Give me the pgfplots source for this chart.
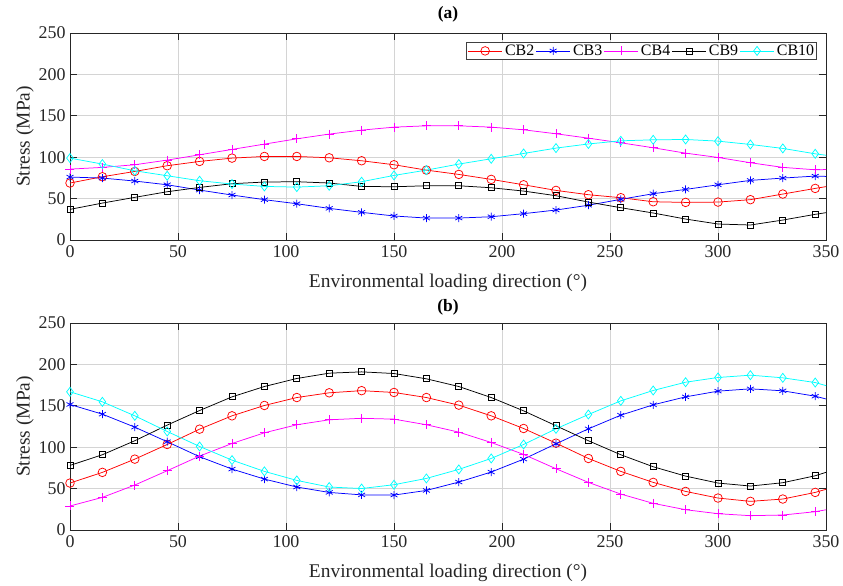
\documentclass[border=0pt]{standalone}
\usepackage{fontspec}
\setmainfont{Liberation Serif}
\usepackage{pgfplots}
\usepackage{pgfplotstable}
\pgfplotsset{compat=1.18}
\usetikzlibrary{plotmarks}
\definecolor{mred}{rgb}{1,0,0}
\definecolor{mblue}{rgb}{0,0,1}
\definecolor{mmag}{rgb}{1,0,1}
\definecolor{mcyan}{rgb}{0,1,1}

\pgfplotstableread{
x CB2 CB3 CB4 CB9 CB10
0 68.8 76.0 85.6 37.0 98.9
15 76.4 74.8 87.7 44.6 91.7
30 82.8 71.2 90.9 51.5 83.6
45 89.7 66.7 96.5 58.3 77.6
60 94.9 60.3 102.9 63.5 71.6
75 98.9 54.3 109.4 68.0 67.6
90 100.9 48.7 115.8 70.0 64.7
105 100.9 43.8 122.2 70.4 63.9
120 99.3 38.2 127.9 68.8 65.5
135 95.7 33.4 132.7 64.7 70.4
150 90.9 29.0 136.3 64.3 78.0
165 84.4 26.5 137.9 65.5 84.4
180 79.2 26.5 137.9 65.5 91.7
195 73.2 28.1 136.3 63.1 98.1
210 66.7 31.8 133.1 59.1 104.5
225 59.9 36.2 128.3 53.5 111.0
240 54.7 42.0 123.0 45.8 116.0
255 51.1 49.1 117.4 39.0 119.8
270 46.2 55.9 111.4 32.6 121.0
285 45.4 61.1 104.9 25.3 121.4
300 45.8 66.7 99.7 19.3 119.4
315 48.7 72.0 93.3 18.1 115.4
330 55.5 74.8 87.7 24.1 110.6
345 62.3 77.2 84.8 31.0 104.1
360 68.8 76.0 85.6 37.0 98.9
}\tableA

\pgfplotstableread{
x CB2 CB3 CB4 CB9 CB10
0 56.7 151.6 29.0 78.0 166.9
15 69.6 139.9 39.4 90.9 154.8
30 85.6 124.2 54.3 107.8 137.9
45 103.3 106.6 71.6 126.7 119.0
60 121.8 88.5 89.3 144.3 100.9
75 137.9 73.6 104.5 160.8 84.4
90 150.4 61.5 117.4 173.3 70.8
105 160.0 51.9 127.1 183.0 59.9
120 165.7 45.4 133.1 189.4 51.9
135 168.3 42.4 134.9 191.0 50.1
150 166.1 42.2 133.9 189.0 54.7
165 160.0 47.8 127.1 182.6 62.3
180 150.8 57.9 118.2 173.3 73.2
195 137.9 70.0 105.7 160.0 86.4
210 122.6 85.6 91.3 143.9 103.3
225 104.9 104.1 74.0 125.9 122.2
240 86.4 122.2 57.5 107.8 139.5
255 70.8 138.7 43.4 90.9 156.0
270 57.5 151.2 32.2 76.4 168.5
285 46.6 160.8 24.5 65.1 178.5
300 38.6 167.7 19.7 56.7 184.2
315 34.6 170.5 17.3 53.1 187.0
330 37.4 168.1 18.1 57.1 183.8
345 45.4 161.6 22.1 65.5 178.1
360 56.7 151.6 29.0 78.0 166.9
}\tableB

\pgfplotsset{
  myaxis/.style={
    scale only axis, width=756bp, height=207bp,
    xmin=0, xmax=350, ymin=0, ymax=250,
    xtick={0,50,...,350}, ytick={0,50,...,250},
    grid=major, major grid style={black!17, line width=0.7pt},
    tick align=inside, tick pos=both,
    axis line style={black!85, line width=0.7pt},
    every tick/.style={black!85, line width=0.7pt},
    major tick length=7bp,
    tick label style={font=\fontsize{18}{21}\selectfont, text=black!85},
    xticklabel style={yshift=-2bp},
    yticklabel style={xshift=-1bp},
    /pgf/number format/assume math mode=true,
    xlabel={Environmental loading direction (°)},
    ylabel={Stress (MPa)},
    label style={font=\fontsize{19.5}{23}\selectfont, text=black!85},
    xlabel style={at={(axis description cs:0.5,0)}, anchor=center, yshift=-43bp},
    ylabel style={at={(axis description cs:0,0.5)}, anchor=center, rotate=0, yshift=45bp},
    title style={font=\fontsize{17.5}{20}\selectfont\bfseries, at={(axis description cs:0.5,1)}, anchor=center},
    every axis plot/.append style={line width=0.75pt, mark indices={1,...,24}},
  },
  s2/.style={mred, mark=o, mark size=4.3bp},
  s3/.style={mblue, mark=asterisk, mark size=4bp},
  s4/.style={mmag, mark=+, mark size=4.5bp},
  s9/.style={black, mark=square, mark size=3bp},
  s10/.style={mcyan, mark=diamond, mark size=4.5bp},
}

\begin{document}
\begin{tikzpicture}
\useasboundingbox (-70bp,33bp) rectangle (773bp,-553bp);
\begin{axis}[myaxis, at={(0,0)}, anchor=north west, title={(a)},
  title style={yshift=13bp},
  legend columns=5,
  legend style={at={(1,1)}, anchor=north east, xshift=-9bp, yshift=-9bp,
    draw=black!75, line width=0.7pt, font=\fontsize{16}{18}\selectfont,
    inner sep=1.5bp, nodes={inner sep=1bp},
    /tikz/every even column/.append style={column sep=0.5bp},
    /tikz/every odd column/.append style={column sep=1.5bp}},
  legend image code/.code={\draw[mark indices={2}] plot coordinates {(0bp,0bp) (17bp,0bp) (34bp,0bp)};},
]
\addplot[s2] table[x=x, y=CB2] {\tableA};
\addlegendentry{CB2}
\addplot[s3] table[x=x, y=CB3] {\tableA};
\addlegendentry{CB3}
\addplot[s4] table[x=x, y=CB4] {\tableA};
\addlegendentry{CB4}
\addplot[s9] table[x=x, y=CB9] {\tableA};
\addlegendentry{CB9}
\addplot[s10] table[x=x, y=CB10] {\tableA};
\addlegendentry{CB10}
\end{axis}
\begin{axis}[myaxis, at={(0,-290bp)}, anchor=north west, title={(b)},
  title style={yshift=10bp}]
\addplot[s2] table[x=x, y=CB2] {\tableB};
\addplot[s3] table[x=x, y=CB3] {\tableB};
\addplot[s4] table[x=x, y=CB4] {\tableB};
\addplot[s9] table[x=x, y=CB9] {\tableB};
\addplot[s10] table[x=x, y=CB10] {\tableB};
\end{axis}
\end{tikzpicture}
\end{document}
